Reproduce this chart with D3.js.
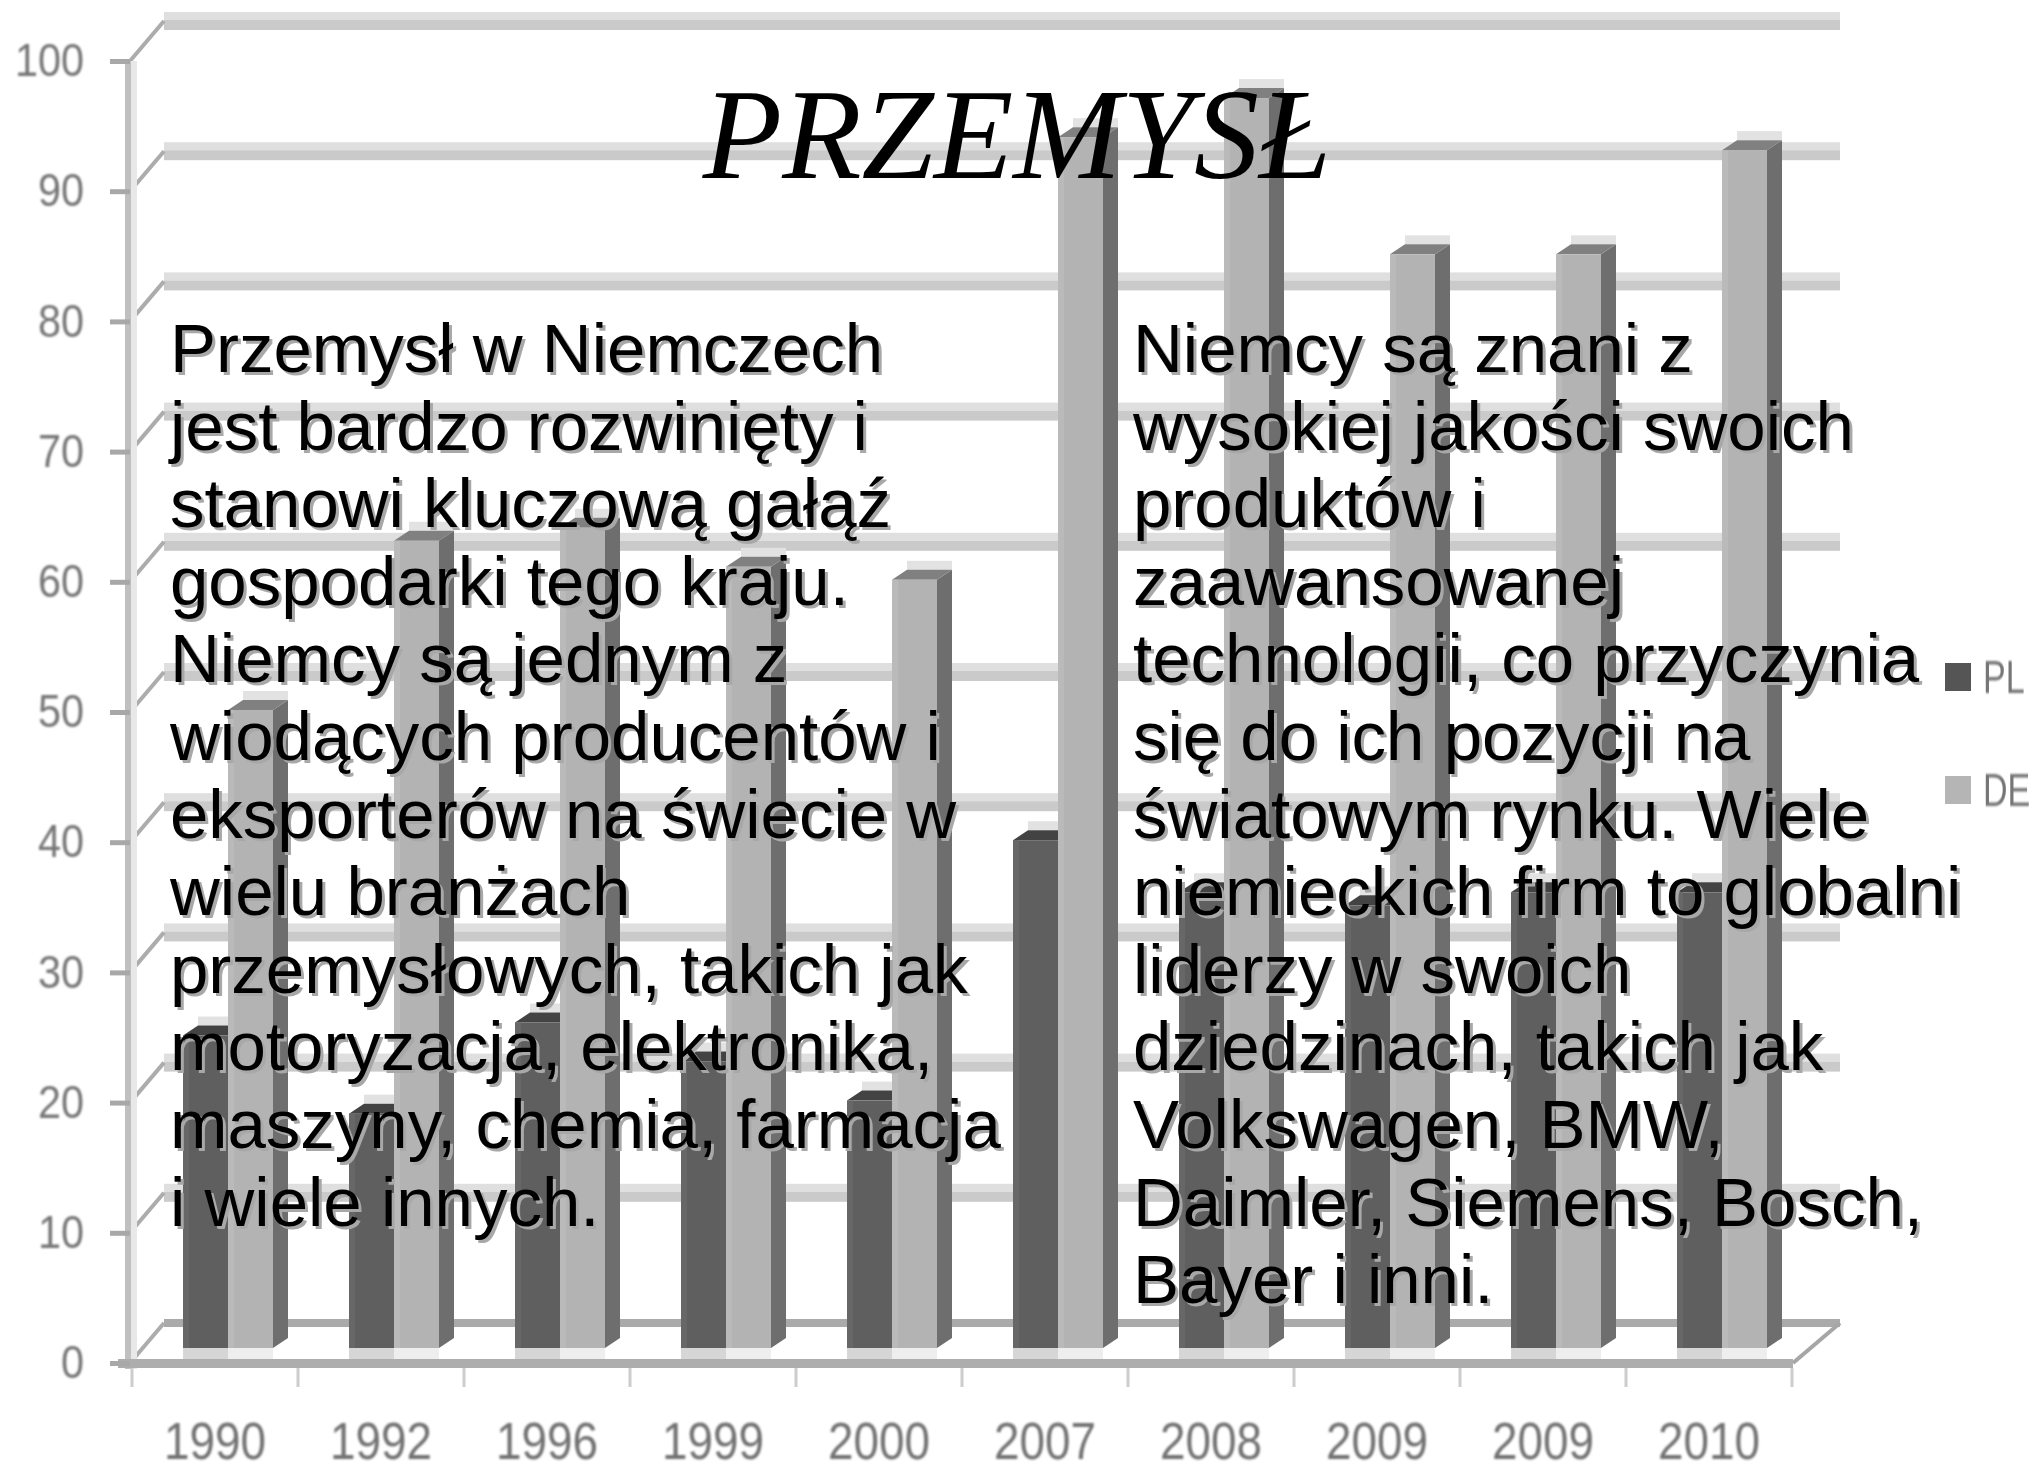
<!DOCTYPE html>
<html>
<head>
<meta charset="utf-8">
<script src="https://cdn.jsdelivr.net/npm/d3@7"></script>
<style>
  body { margin: 0; background: #fff; }
  svg { display: block; }
</style>
</head>
<body>
<script>
// Data
const years = ["1990", "1992", "1996", "1999", "2000", "2007", "2008", "2009", "2009", "2010"];
const plValues = [24, 18, 25, 22, 19, 39, 35, 34, 35, 35];
const deValues = [49, 62, 63, 60, 59, 93, 96, 84, 84, 92];
const yTicks = [0, 10, 20, 30, 40, 50, 60, 70, 80, 90, 100];
const seriesNames = ["PL", "DE"];
const title = "PRZEMYSŁ";
const leftLines = [
  "Przemysł w Niemczech",
  "jest bardzo rozwinięty i",
  "stanowi kluczową gałąź",
  "gospodarki tego kraju.",
  "Niemcy są jednym z",
  "wiodących producentów i",
  "eksporterów na świecie w",
  "wielu branżach",
  "przemysłowych, takich jak",
  "motoryzacja, elektronika,",
  "maszyny, chemia, farmacja",
  "i wiele innych."
];
const rightLines = [
  "Niemcy są znani z",
  "wysokiej jakości swoich",
  "produktów i",
  "zaawansowanej",
  "technologii, co przyczynia",
  "się do ich pozycji na",
  "światowym rynku. Wiele",
  "niemieckich firm to globalni",
  "liderzy w swoich",
  "dziedzinach, takich jak",
  "Volkswagen, BMW,",
  "Daimler, Siemens, Bosch,",
  "Bayer i inni."
];

const W = 2035, H = 1478;
const svg = d3.select("body").append("svg")
    .attr("width", W)
    .attr("height", H);

const defs = svg.append("defs");
defs.append("filter").attr("id", "soft")
    .append("feGaussianBlur").attr("stdDeviation", 0.9);

// scales
const x = d3.scaleBand()
    .domain(d3.range(years.length))
    .range([132, 1792]);
const y = d3.scaleLinear()
    .domain([0, 100])
    .range([1363, 61]);

// 3d offsets
const DX = 34, DY = -40;      // back wall
const bdx = 15, bdy = -10;    // bar depth
const inset = 15;             // bars stand behind the front edge
const barW = 45, barOff = 51;
const xEnd = 1840;

// back wall gridlines
const grid = svg.append("g");
yTicks.forEach(function(t) {
    const gy = y(t) + DY;
    if (t === 0) {
        grid.append("rect").attr("x", 130 + DX).attr("y", gy - 4)
            .attr("width", xEnd - 130 - DX).attr("height", 8).attr("fill", "#aaaaaa");
    } else {
        grid.append("rect").attr("x", 130 + DX).attr("y", gy - 9)
            .attr("width", xEnd - 130 - DX).attr("height", 8).attr("fill", "#dfdfdf");
        grid.append("rect").attr("x", 130 + DX).attr("y", gy - 1)
            .attr("width", xEnd - 130 - DX).attr("height", 10).attr("fill", "#cacaca");
    }
    // left wall diagonal
    grid.append("line")
        .attr("x1", 130).attr("y1", y(t))
        .attr("x2", 130 + DX).attr("y2", gy)
        .attr("stroke", "#acacac").attr("stroke-width", 4);
});
// right end of the floor
grid.append("line")
    .attr("x1", 1793).attr("y1", y(0))
    .attr("x2", xEnd).attr("y2", y(0) + DY)
    .attr("stroke", "#a6a6a6").attr("stroke-width", 4);

// y axis line
svg.append("rect").attr("x", 125).attr("y", y(100)).attr("width", 6)
    .attr("height", y(0) - y(100) + 6).attr("fill", "#c0c0c0");
svg.append("rect").attr("x", 131).attr("y", y(100)).attr("width", 6)
    .attr("height", y(0) - y(100) + 6).attr("fill", "#e8e8e8");

// bars
const base = y(0) - inset;
function drawBar(g, x0, v, cFront, cTop, cSide, cFloor, cEdge) {
    const top = y(v) - inset;
    g.append("rect").attr("x", x0).attr("y", base).attr("width", barW)
        .attr("height", 11).attr("fill", cFloor);
    g.append("polygon")
        .attr("points", [[x0 + barW, top], [x0 + barW + bdx, top + bdy],
            [x0 + barW + bdx, base + bdy], [x0 + barW, base]].join(" "))
        .attr("fill", cSide);
    g.append("rect").attr("x", x0 + bdx).attr("y", top + bdy - 9)
        .attr("width", barW).attr("height", 9).attr("fill", "#e2e2e2");
    g.append("polygon")
        .attr("points", [[x0, top], [x0 + bdx, top + bdy],
            [x0 + barW + bdx, top + bdy], [x0 + barW, top]].join(" "))
        .attr("fill", cTop);
    g.append("rect").attr("x", x0).attr("y", top).attr("width", barW)
        .attr("height", base - top).attr("fill", cFront);
    g.append("rect").attr("x", x0).attr("y", top).attr("width", 6)
        .attr("height", base - top).attr("fill", cEdge);
}

const bars = svg.append("g");
years.forEach(function(yr, i) {
    const bx = x(i);
    drawBar(bars, bx + barOff, plValues[i], "#5f5f5f", "#434343", "#4a4a4a", "#d6d6d6", "#676767");
    drawBar(bars, bx + barOff + barW, deValues[i], "#b3b3b3", "#808080", "#6e6e6e", "#eeeeee", "#bababa");
});

// front x axis line and ticks
svg.append("rect").attr("x", 118).attr("y", y(0) - 4)
    .attr("width", 1793 - 118).attr("height", 9).attr("fill", "#adadad");
d3.range(years.length + 1).forEach(function(i) {
    const tx = 132 + x.bandwidth() * i;
    svg.append("line").attr("x1", tx).attr("x2", tx)
        .attr("y1", y(0) + 5).attr("y2", y(0) + 24)
        .attr("stroke", "#cdcdcd").attr("stroke-width", 3);
});

// y axis ticks and labels
const yAxis = svg.append("g")
    .attr("transform", "translate(130,0)")
    .call(d3.axisLeft(y).tickValues(yTicks).tickSize(20).tickPadding(26));
yAxis.select(".domain").remove();
yAxis.selectAll(".tick line").attr("stroke", "#a8a8a8").attr("stroke-width", 5);
yAxis.selectAll(".tick text")
    .attr("font-family", "Liberation Sans, Arial, sans-serif")
    .attr("font-size", 46)
    .attr("fill", "#767676")
    .attr("filter", "url(#soft)")
    .attr("x", -46 / 0.9)
    .attr("transform", "scale(0.9,1)");

// x axis labels
const xAxis = svg.append("g")
    .attr("transform", "translate(0," + y(0) + ")")
    .call(d3.axisBottom(x).tickSize(0).tickPadding(60).tickFormat(function(i) { return years[i]; }));
xAxis.select(".domain").remove();
xAxis.selectAll(".tick text")
    .attr("font-family", "Liberation Sans, Arial, sans-serif")
    .attr("font-size", 51)
    .attr("fill", "#727272")
    .attr("filter", "url(#soft)")
    .attr("transform", "scale(0.9,1)");

// legend (squeezed so it ends at the right edge)
const legendColors = ["#555555", "#b5b5b5"];
const legendY = [677, 790];
seriesNames.forEach(function(name, i) {
    svg.append("rect").attr("x", 1945).attr("y", legendY[i] - 14)
        .attr("width", 26).attr("height", 28).attr("fill", legendColors[i]);
    svg.append("text").attr("x", 1983 / 0.74).attr("y", legendY[i])
        .attr("transform", "scale(0.74,1)")
        .attr("dominant-baseline", "central")
        .attr("font-family", "Liberation Sans, Arial, sans-serif")
        .attr("font-size", 46).attr("fill", "#767676")
        .attr("filter", "url(#soft)")
        .text(name);
});

// title
svg.append("text")
    .attr("x", 1017).attr("y", 178)
    .attr("text-anchor", "middle")
    .attr("font-family", "Liberation Serif, Times New Roman, serif")
    .attr("font-style", "italic")
    .attr("font-size", 130)
    .attr("fill", "#000")
    .text(title);

// text blocks with shadow
function textBlock(lines, x0, y0) {
    const g = svg.append("g")
        .attr("font-family", "Liberation Sans, Arial, sans-serif")
        .attr("font-size", 69);
    lines.forEach(function(line, i) {
        g.append("text").attr("x", x0 + 3).attr("y", y0 + i * 77.6 + 3)
            .attr("fill", "#a8a8a8").text(line);
    });
    lines.forEach(function(line, i) {
        g.append("text").attr("x", x0).attr("y", y0 + i * 77.6)
            .attr("fill", "#000").text(line);
    });
}
textBlock(leftLines, 170, 372);
textBlock(rightLines, 1133, 372);
</script>
</body>
</html>
